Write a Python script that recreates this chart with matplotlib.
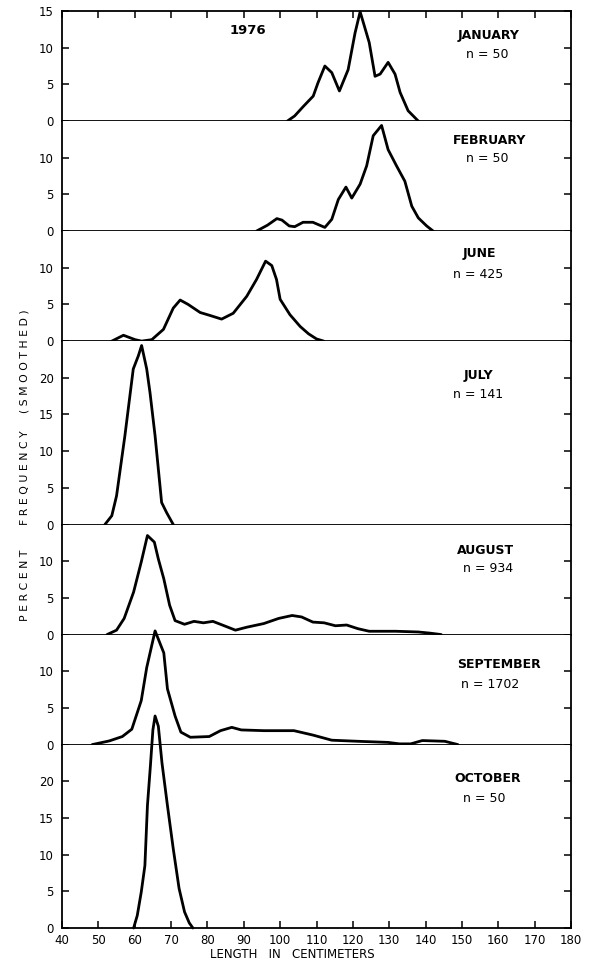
import matplotlib
matplotlib.use("Agg")
import matplotlib.pyplot as plt
import numpy as np

# length (cm) / smoothed percent frequency
jan_x = [102, 104, 106.4, 109.1, 110.4, 112.3, 114.2, 116.3, 118.7, 120.6, 122, 124.5, 126.1, 127.5, 129.7, 131.6, 133, 135.2, 138]
jan_y = [0, 0.7, 2.0, 3.4, 5.2, 7.5, 6.6, 4.1, 7.0, 12.0, 14.9, 10.7, 6.1, 6.4, 8.0, 6.4, 3.9, 1.4, 0]

feb_x = [93.5, 96.5, 99.1, 100.5, 102.5, 104, 106.3, 109, 112.3, 114.2, 116, 118.1, 119.7, 122, 123.8, 125.6, 127.9, 129.7, 132, 134.3, 136.2, 138, 140.3, 142.1]
feb_y = [0, 0.8, 1.7, 1.5, 0.7, 0.6, 1.2, 1.2, 0.5, 1.6, 4.3, 6.0, 4.5, 6.4, 8.9, 13.0, 14.4, 11.1, 8.9, 6.8, 3.4, 1.8, 0.7, 0]

jun_x = [53.7, 56.9, 60.1, 61.9, 64.7, 67.9, 70.6, 72.5, 74.7, 78, 80.7, 83.9, 87.1, 90.8, 93.5, 96, 97.7, 99, 100, 102.7, 105.5, 107.8, 110, 112]
jun_y = [0, 0.8, 0.2, 0, 0.2, 1.6, 4.5, 5.6, 5.0, 3.9, 3.5, 3.0, 3.8, 6.1, 8.4, 10.9, 10.3, 8.4, 5.7, 3.6, 2.0, 1.0, 0.3, 0]

jul_x = [51.8, 53.7, 55, 57.3, 59.6, 61, 61.9, 63.3, 64.2, 65.6, 67.4, 68.8, 70.6]
jul_y = [0, 1.2, 3.9, 12.1, 21.2, 23, 24.4, 21.2, 18, 12.1, 3.0, 1.6, 0]

aug_x = [52.4, 55, 57.1, 59.7, 61.8, 63.5, 65.4, 66.5, 68, 69.6, 71.1, 73.7, 76.3, 78.9, 81.5, 84.1, 87.7, 90.8, 95.5, 99.6, 103.3, 105.9, 109, 112.1, 115.2, 118.3, 121.4, 124.5, 131.8, 138, 141.1, 144.3]
aug_y = [0, 0.6, 2.2, 5.8, 9.9, 13.5, 12.6, 10.3, 7.6, 4.0, 1.9, 1.4, 1.8, 1.6, 1.8, 1.3, 0.6, 1.0, 1.5, 2.2, 2.6, 2.4, 1.7, 1.6, 1.2, 1.3, 0.8, 0.45, 0.45, 0.35, 0.2, 0]

sep_x = [48.3, 53, 56.6, 59.2, 61.8, 63.3, 65.6, 68, 69, 71.1, 72.7, 75.3, 80.5, 83.6, 86.7, 89.3, 95.5, 103.8, 109, 114.2, 121.4, 129.7, 132.8, 135.9, 139.1, 145.3, 148.9]
sep_y = [0, 0.5, 1.1, 2.1, 6.0, 10.5, 15.5, 12.5, 7.6, 3.9, 1.7, 1.0, 1.1, 1.9, 2.35, 2.0, 1.9, 1.9, 1.3, 0.6, 0.45, 0.3, 0.1, 0.1, 0.55, 0.45, 0]

oct_x = [59.7, 60.7, 61.8, 62.8, 63.5, 64.3, 65, 65.6, 66.5, 67.5, 69, 70.6, 72.2, 73.7, 75, 76]
oct_y = [0, 1.7, 4.9, 8.5, 16.7, 22, 27, 28.9, 27.5, 22.5, 16.7, 10.8, 5.4, 2.2, 0.7, 0]

months = ["JANUARY", "FEBRUARY", "JUNE", "JULY", "AUGUST", "SEPTEMBER", "OCTOBER"]
sizes = [50, 50, 425, 141, 934, 1702, 50]
ymax = [15, 15, 15, 25, 15, 15, 25]
series = [(jan_x, jan_y), (feb_x, feb_y), (jun_x, jun_y), (jul_x, jul_y),
          (aug_x, aug_y), (sep_x, sep_y), (oct_x, oct_y)]
xticks = list(range(40, 181, 10))

W, H = 593, 967
fig = plt.figure(figsize=(W / 100, H / 100), dpi=100)
gs = fig.add_gridspec(7, 1, height_ratios=ymax, hspace=0,
                      left=62 / W, right=571 / W, top=1 - 11 / H, bottom=1 - 928 / H)

# label positions in pixels (centre of month name, centre of n line)
label_px = [(489, 35, 487, 55), (490, 140, 487, 158), (479, 253, 478, 275),
            (478, 375, 478, 395), (486, 550, 488, 568), (499, 665, 490, 685),
            (488, 778, 484, 799)]

for i in range(7):
    ax = fig.add_subplot(gs[i])
    xs, ys = series[i]
    ax.plot(xs, ys, color="black", lw=2.0, clip_on=False, zorder=5,
            solid_joinstyle="round", solid_capstyle="round")
    ax.set_xlim(40, 180)
    ax.set_ylim(0, ymax[i])
    yt = list(range(0, ymax[i], 5))
    if i == 0:
        yt = yt + [15]
    ax.set_yticks(yt)
    ax.set_yticklabels([str(v) for v in yt], fontsize=8.5)
    ax.tick_params(axis="y", direction="in", length=5, width=1.1, right=True, pad=6)
    for s in ax.spines.values():
        s.set_linewidth(1.3)
    if i != 0:
        ax.spines["top"].set_visible(False)
    ax.set_xticks(xticks)
    if i == 6:
        ax.set_xticklabels([str(v) for v in xticks], fontsize=8.5)
        ax.tick_params(axis="x", direction="in", length=5, width=1.1, pad=4)
    elif i == 0:
        ax.tick_params(axis="x", direction="in", length=5, width=1.1, top=True,
                       bottom=False, labelbottom=False)
    else:
        ax.tick_params(axis="x", bottom=False, labelbottom=False)
    mx, my, nx, ny = label_px[i]
    fig.text(mx / W, 1 - my / H, months[i], ha="center", va="center",
             fontsize=9, fontweight="semibold")
    fig.text(nx / W, 1 - ny / H, f"n = {sizes[i]}", ha="center", va="center",
             fontsize=9)

fig.text(248 / W, 1 - 30 / H, "1976", ha="center", va="center", fontsize=9.5, fontweight="bold")
fig.text(25 / W, 1 - 585 / H, "P E R C E N T", rotation=90, ha="center", va="center", fontsize=7.8)
fig.text(25 / W, 1 - 478 / H, "F R E Q U E N C Y", rotation=90, ha="center", va="center", fontsize=7.8)
fig.text(25 / W, 1 - 361 / H, "( S M O O T H E D )", rotation=90, ha="center", va="center", fontsize=7.8)
fig.text(292 / W, 1 - 955 / H, "LENGTH   IN   CENTIMETERS", ha="center", va="center", fontsize=8.5)

fig.savefig("out.png", dpi=100)
